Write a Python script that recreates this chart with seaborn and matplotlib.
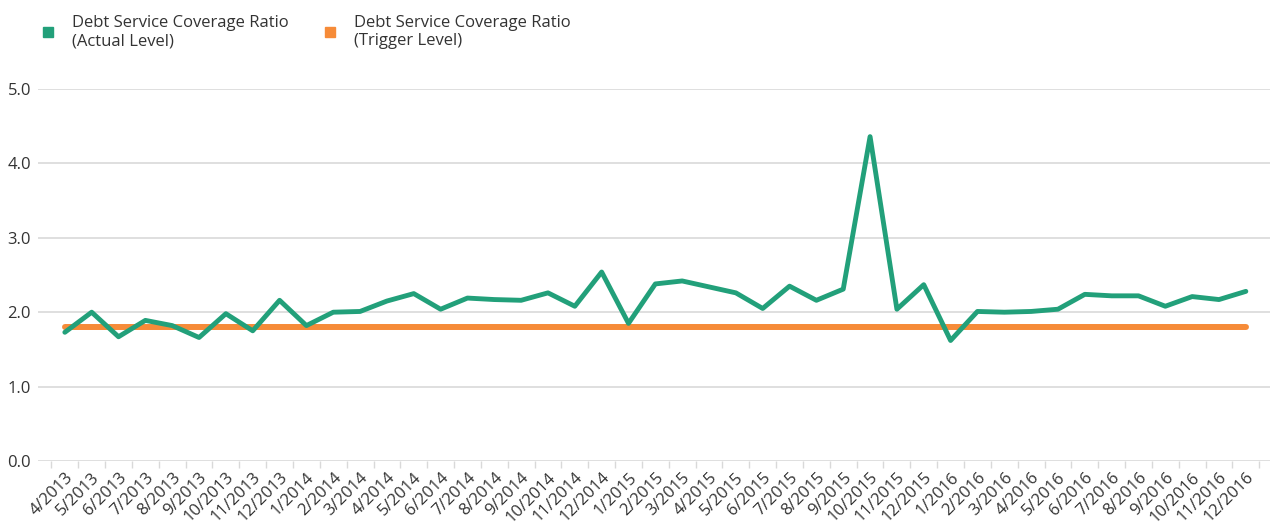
"""
Debt Service Coverage Ratio — actual vs trigger level line chart
"""

import pandas as pd
import matplotlib
matplotlib.use("Agg")
import matplotlib.pyplot as plt
from matplotlib.lines import Line2D
from matplotlib.ticker import FixedLocator
import seaborn as sns

# data
months = [
    "4/2013", "5/2013", "6/2013", "7/2013", "8/2013", "9/2013", "10/2013",
    "11/2013", "12/2013", "1/2014", "2/2014", "3/2014", "4/2014", "5/2014",
    "6/2014", "7/2014", "8/2014", "9/2014", "10/2014", "11/2014", "12/2014",
    "1/2015", "2/2015", "3/2015", "4/2015", "5/2015", "6/2015", "7/2015",
    "8/2015", "9/2015", "10/2015", "11/2015", "12/2015", "1/2016", "2/2016",
    "3/2016", "4/2016", "5/2016", "6/2016", "7/2016", "8/2016", "9/2016",
    "10/2016", "11/2016", "12/2016",
]
actual_level = [
    1.73, 2.00, 1.67, 1.89, 1.82, 1.66, 1.98,
    1.75, 2.16, 1.82, 2.00, 2.01, 2.15, 2.25,
    2.04, 2.19, 2.17, 2.16, 2.26, 2.08, 2.54,
    1.85, 2.38, 2.42, 2.34, 2.26, 2.05, 2.35,
    2.16, 2.31, 4.36, 2.04, 2.37, 1.62, 2.01,
    2.00, 2.01, 2.04, 2.24, 2.22, 2.22, 2.08,
    2.21, 2.17, 2.28,
]
trigger_level = [1.8] * len(months)

actual_label = "Debt Service Coverage Ratio\n(Actual Level)"
trigger_label = "Debt Service Coverage Ratio\n(Trigger Level)"

GREEN = "#22A07A"
ORANGE = "#F68B38"
GRID = "#D9D9D9"
TEXT = "#333333"

sns.set_theme(style="white")
plt.rcParams["font.family"] = ["Open Sans", "DejaVu Sans"]

df = pd.DataFrame({"month": months, "actual": actual_level, "trigger": trigger_level})
df["pos"] = range(len(df))

fig, ax = plt.subplots(figsize=(12.71, 5.31), dpi=100)
fig.subplots_adjust(left=38 / 1271, right=1270 / 1271, top=1 - 89 / 531, bottom=1 - 461 / 531)

sns.lineplot(data=df, x="pos", y="trigger", color=ORANGE, linewidth=4.3,
             solid_capstyle="round", ax=ax, zorder=3)
sns.lineplot(data=df, x="pos", y="actual", color=GREEN, linewidth=3.5,
             ax=ax, zorder=4)

ax.set_ylim(0, 5)
ax.set_xlim(-1.0, len(months) - 0.1)
ax.set_yticks([0, 1, 2, 3, 4, 5])
ax.set_yticklabels([f"{v:.1f}" for v in range(6)], fontsize=12, color=TEXT)
ax.yaxis.grid(True, color=GRID, linewidth=1.2)
ax.set_axisbelow(True)

ax.set_xticks(df["pos"])
ax.set_xticklabels(months, rotation=45, ha="right", rotation_mode="anchor",
                   fontsize=12, color=TEXT)
ax.xaxis.set_minor_locator(FixedLocator([p - 0.5 for p in range(len(months) + 1)]))
ax.tick_params(axis="x", which="major", length=0, pad=6)
ax.tick_params(axis="x", which="minor", length=5, color=GRID, width=1, bottom=True)
ax.tick_params(axis="y", length=0, pad=5)

for side in ["top", "right", "left", "bottom"]:
    ax.spines[side].set_visible(False)

ax.set_xlabel("")
ax.set_ylabel("")

handles = [
    Line2D([], [], marker="s", linestyle="none", color=GREEN, markersize=7),
    Line2D([], [], marker="s", linestyle="none", color=ORANGE, markersize=7),
]
fig.legend(handles, [actual_label, trigger_label], loc="upper left",
           bbox_to_anchor=(25 / 1271, 1 - 0 / 531), ncol=2, frameon=False,
           fontsize=12, handlelength=1.0, handletextpad=0.95, columnspacing=1.95,
           labelspacing=0.2, labelcolor=TEXT)

fig.savefig("out.png", dpi=100)
plt.close(fig)
